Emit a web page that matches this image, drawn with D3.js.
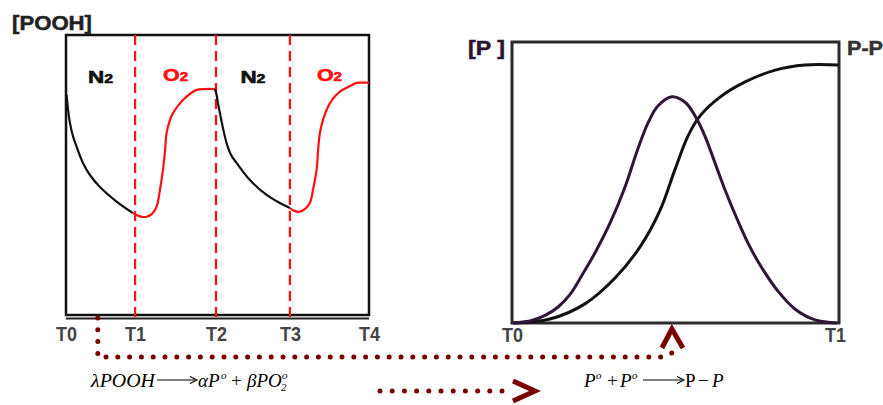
<!DOCTYPE html>
<html><head><meta charset="utf-8">
<script src="https://cdn.jsdelivr.net/npm/d3@7"></script>
<style>body{margin:0;background:#fff}svg{display:block}</style>
</head><body><svg id="c" width="883" height="405"></svg>
<script>
// ---------- DATA ----------
const leftTickLabels = ["T0","T1","T2","T3","T4"];
const leftTickTimes  = [0, 22.8, 49.5, 73.9, 100];
const switchTimes    = [22.8, 49.5, 73.9];
const gasLabels      = ["N","O","N","O"];       // each followed by subscript 2
const gasIsOxygen    = [false, true, false, true];

// [POOH] vs time, nitrogen (black) and oxygen (red) phases: [time, value]
const n2Phase1 = [[0.2,78.6],[0.7,73.2],[1.3,68.6],[2.3,63.9],[3.5,60.1],[5.6,54.3],[7.9,50.0],[11.2,45.7],[16.8,40.4],[22.1,36.4]];
const o2Phase1 = [[22.1,36.4],[24.4,35.2],[26.6,35.1],[28.4,36.1],[29.9,38.7],[31.0,44.6],[32.0,51.8],[32.7,58.9],[33.2,65.0],[34.3,69.6],[35.3,72.1],[38.6,76.8],[43.1,80.4],[45.9,80.7],[49.2,80.7]];
const n2Phase2 = [[49.2,80.7],[49.7,78.6],[50.2,75.4],[50.8,72.1],[51.8,66.8],[53.0,61.4],[54.5,57.1],[56.3,54.3],[60.7,48.2],[66.2,42.9],[70.6,40.0],[73.9,38.2]];
const o2Phase2 = [[73.9,38.2],[75.6,37.1],[77.2,36.9],[78.9,37.9],[80.5,40.0],[81.5,44.6],[82.7,51.8],[83.2,58.9],[83.8,65.0],[84.8,69.6],[86.0,73.2],[87.8,76.8],[90.4,79.8],[93.1,81.4],[95.9,82.9],[97.7,83.0],[100,83.0]];

const rightTickLabels = ["T0","T1"];
const rightTickTimes  = [0, 100];
// radical [P°] (purple) and P-P (black): [time, value]
const radicalP = [[0.3,0],[5.5,0.7],[10.1,2.7],[14.1,5.7],[17.7,10.1],[21.4,17.0],[25.4,25.0],[30.0,35.6],[34.6,48.5],[38.5,62.0],[41.6,71.2],[44.6,77.2],[48.9,80.5],[53.2,78.3],[56.3,73.0],[59.0,66.5],[62.1,56.9],[65.4,46.6],[69.1,36.3],[72.8,27.0],[76.8,18.9],[81.3,11.4],[86.5,5.0],[92.7,1.1],[99.4,0]];
const productPP = [[0.3,0],[11.6,1.4],[22.3,6.8],[31.5,16.0],[39.1,27.0],[45.3,40.2],[49.8,54.5],[53.8,66.5],[57.5,73.7],[63.6,80.4],[71.3,85.8],[80.5,90.0],[89.6,91.8],[99.7,91.8]];
const radicalPeakTime = 48.9;
const dottedStartTime = 10.5;

// ---------- DRAW ----------
const svg = d3.select("#c");
const maroon = "#7a0000";
const xL = d3.scaleLinear([0,100],[66,369]);
const yL = d3.scaleLinear([0,100],[315,35]);
const xR = d3.scaleLinear([0,100],[512,839]);
const yR = d3.scaleLinear([0,100],[323,42]);
const curve = d3.curveCatmullRom.alpha(0.5);

// left panel frame
svg.append("rect").attr("x",xL(0)).attr("y",yL(100)).attr("width",xL(100)-xL(0)).attr("height",yL(0)-yL(100))
  .attr("fill","none").attr("stroke","#111").attr("stroke-width",2.5);
svg.append("line").attr("x1",xL(0)).attr("x2",xL(100)).attr("y1",yL(0)+3.5).attr("y2",yL(0)+3.5)
  .attr("stroke","#222").attr("stroke-width",1.8);

// dashed switching lines
svg.selectAll("line.sw").data(switchTimes).join("line").attr("class","sw")
  .attr("x1",d=>xL(d)).attr("x2",d=>xL(d)).attr("y1",yL(100)).attr("y2",yL(0)+5)
  .attr("stroke","#ff1010").attr("stroke-width",2.3).attr("stroke-dasharray","10,6");

const lineL = d3.line().x(d=>xL(d[0])).y(d=>yL(d[1])).curve(curve);
[[n2Phase1,"#111"],[o2Phase1,"#ff1010"],[n2Phase2,"#111"],[o2Phase2,"#ff1010"]].forEach(([data,col])=>{
  svg.append("path").datum(data).attr("d",lineL).attr("fill","none").attr("stroke",col).attr("stroke-width",2.2);
});

// gas labels
const bounds = [0, ...switchTimes, 100];
gasLabels.forEach((g,i)=>{
  const cx = xL((bounds[i]+bounds[i+1])/2);
  const t = svg.append("text").attr("x",cx).attr("y",gasIsOxygen[i]?81:83).attr("text-anchor","middle")
    .attr("font-family","Liberation Sans, Arial, sans-serif").attr("font-weight","bold").attr("font-size",17)
    .attr("fill",gasIsOxygen[i]?"#ff1010":"#111").attr("stroke",gasIsOxygen[i]?"#ff1010":"#111").attr("stroke-width",0.6)
    .attr("textLength",25).attr("lengthAdjust","spacingAndGlyphs");
  t.append("tspan").text(g);
  t.append("tspan").attr("font-size",12).text("2");
});

// left axis labels
const axL = svg.append("g").attr("transform",`translate(0,${yL(0)})`)
  .call(d3.axisBottom(xL).tickValues(leftTickTimes).tickFormat((d,i)=>leftTickLabels[i]).tickSize(0).tickPadding(12));
axL.select(".domain").remove();
axL.selectAll("text").attr("font-family","Liberation Sans, Arial, sans-serif").attr("font-weight","bold")
  .attr("font-size",20).attr("fill","#444").attr("textLength",21).attr("lengthAdjust","spacingAndGlyphs");

svg.append("text").attr("x",12).attr("y",30).text("[POOH]")
  .attr("font-family","Liberation Sans, Arial, sans-serif").attr("font-weight","bold").attr("font-size",20)
  .attr("fill","#222").attr("stroke","#222").attr("stroke-width",0.5).attr("textLength",80).attr("lengthAdjust","spacingAndGlyphs");

// right panel
svg.append("rect").attr("x",xR(0)).attr("y",yR(100)).attr("width",xR(100)-xR(0)).attr("height",yR(0)-yR(100))
  .attr("fill","none").attr("stroke","#2a2a2a").attr("stroke-width",3);
const lineR = d3.line().x(d=>xR(d[0])).y(d=>yR(d[1])).curve(curve);
svg.append("path").datum(productPP).attr("d",lineR).attr("fill","none").attr("stroke","#111").attr("stroke-width",3);
svg.append("path").datum(radicalP).attr("d",lineR).attr("fill","none").attr("stroke","#2f1536").attr("stroke-width",3);

const axR = svg.append("g").attr("transform",`translate(0,${yR(0)})`)
  .call(d3.axisBottom(xR).tickValues(rightTickTimes).tickFormat((d,i)=>rightTickLabels[i]).tickSize(0).tickPadding(5));
axR.select(".domain").remove();
axR.selectAll("text").attr("font-family","Liberation Sans, Arial, sans-serif").attr("font-weight","bold")
  .attr("font-size",20).attr("fill","#444").attr("textLength",21).attr("lengthAdjust","spacingAndGlyphs");
axR.selectAll(".tick").filter((d,i)=>i===1).select("text").attr("dx",-4);

svg.append("text").attr("x",468).attr("y",55).style("white-space","pre").text("[P ]")
  .attr("font-family","Liberation Sans, Arial, sans-serif").attr("font-weight","bold").attr("font-size",20)
  .attr("fill","#2a1530").attr("stroke","#2a1530").attr("stroke-width",0.5).attr("textLength",37).attr("lengthAdjust","spacingAndGlyphs");
svg.append("text").attr("x",847).attr("y",55).text("P-P")
  .attr("font-family","Liberation Sans, Arial, sans-serif").attr("font-weight","bold").attr("font-size",20)
  .attr("fill","#333").attr("stroke","#333").attr("stroke-width",0.5).attr("textLength",36).attr("lengthAdjust","spacingAndGlyphs");

// dotted connector from left panel to radical peak
const px0 = xL(dottedStartTime), pk = xR(radicalPeakTime);
svg.append("path").attr("d",`M${px0},318 L${px0},357 L${pk-11},357 L${pk},353`)
  .attr("fill","none").attr("stroke",maroon).attr("stroke-width",5).attr("stroke-linecap","round")
  .attr("stroke-dasharray","0,11.8");
svg.append("path").attr("d",`M${pk-10},348 L${pk},329 L${pk+11},348`)
  .attr("fill","none").attr("stroke",maroon).attr("stroke-width",5).attr("stroke-linejoin","miter");

// second dotted arrow
svg.append("path").attr("d","M380,391 L502,391")
  .attr("fill","none").attr("stroke",maroon).attr("stroke-width",5).attr("stroke-linecap","round")
  .attr("stroke-dasharray","0,12.2");
svg.append("path").attr("d","M513,381 L535,391 L513,401")
  .attr("fill","none").attr("stroke",maroon).attr("stroke-width",5).attr("stroke-linejoin","miter");

// equations
const serif = "Liberation Serif, Times New Roman, serif";
function arrow(x1,x2,y){
  svg.append("line").attr("x1",x1).attr("x2",x2-2).attr("y1",y).attr("y2",y).attr("stroke","#000").attr("stroke-width",1);
  svg.append("path").attr("d",`M${x2-7},${y-3.5} L${x2},${y} L${x2-7},${y+3.5}`).attr("fill","none").attr("stroke","#000").attr("stroke-width",1.1);
}
function txt(x,y,s,opts={}){
  return svg.append("text").attr("x",x).attr("y",y).text(s).attr("font-family",serif)
    .attr("font-size",opts.size||19).attr("font-style",opts.italic===false?"normal":"italic").attr("fill","#000");
}
const by = 387;
txt(91,by,"λPOOH").attr("textLength",64).attr("lengthAdjust","spacingAndGlyphs");
arrow(157,197,380);
txt(198,by,"αP");
txt(221,by-8,"o",{size:11});
txt(231,by,"+",{italic:false});
txt(247,by,"βPO");
txt(281,by+4,"2",{size:11});
txt(282,by-8,"o",{size:11});

txt(584,by,"P");
txt(596,by-8,"o",{size:11});
txt(607,by,"+",{italic:false});
txt(620,by,"P");
txt(632,by-8,"o",{size:11});
arrow(643,684,380);
txt(685,by,"P",{italic:false});
txt(698,by,"−",{italic:false});
txt(712,by,"P");
</script></body></html>
